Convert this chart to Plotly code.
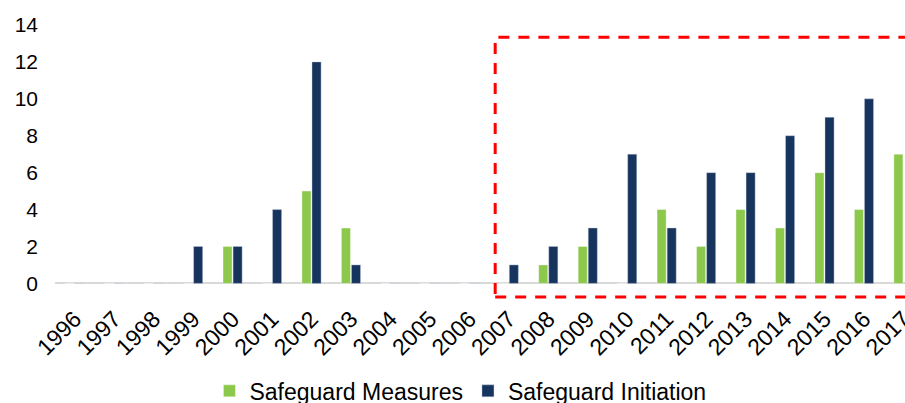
import plotly.graph_objects as go

# Yearly counts of safeguard actions
years = [str(y) for y in range(1996, 2018)]
measures = [0, 0, 0, 0, 2, 0, 5, 3, 0, 0, 0, 0, 1, 2, 0, 4, 2, 4, 3, 6, 4, 7]
initiations = [0, 0, 0, 2, 2, 4, 12, 1, 0, 0, 0, 1, 2, 3, 7, 3, 6, 6, 8, 9, 10, 0]

green = "#8CC84B"
navy = "#17345E"
font_family = "Liberation Sans, Arial, sans-serif"

fig = go.Figure()
fig.add_trace(go.Bar(
    x=years, y=measures, name="Safeguard Measures",
    marker=dict(color=green, line=dict(color="rgba(255,255,255,0.6)", width=0.6)),
))
fig.add_trace(go.Bar(
    x=years, y=initiations, name="Safeguard Initiation",
    marker=dict(color=navy, line=dict(color="rgba(200,210,225,0.7)", width=0.6)),
))

# Highlight box around the 2007-2017 period
start_idx = years.index("2007")
fig.add_shape(
    type="rect", xref="x", yref="y",
    x0=start_idx - 0.345, x1=len(years) + 1,
    y0=-0.74, y1=13.34,
    line=dict(color="#FF0000", width=3, dash="11px,9px"),
    fillcolor="rgba(0,0,0,0)",
    layer="above",
)

fig.update_layout(
    width=905, height=403,
    margin=dict(l=55, r=0, t=25, b=103),
    plot_bgcolor="white", paper_bgcolor="white",
    barmode="group", bargap=0.49, bargroupgap=0.1,
    font=dict(family=font_family, size=20, color="#000000"),
    showlegend=True,
    legend=dict(
        orientation="h", xref="paper", x=0.477, xanchor="center",
        yref="container", y=0.03, yanchor="middle",
        font=dict(size=23), bgcolor="rgba(0,0,0,0)",
    ),
)
fig.update_xaxes(
    type="category", range=[-0.5, 21.04], automargin=False,
    tickangle=-45, showgrid=False, showline=False, zeroline=False,
    ticks="", tickfont=dict(size=23),
)
fig.update_yaxes(
    range=[-0.9, 14], tickvals=[0, 2, 4, 6, 8, 10, 12, 14], automargin=False,
    showgrid=False, showline=False, zeroline=True,
    zerolinecolor="#D9D9D9", zerolinewidth=2,
    ticks="", ticklabelstandoff=16, tickfont=dict(size=21),
)

fig.write_html("out.html")
